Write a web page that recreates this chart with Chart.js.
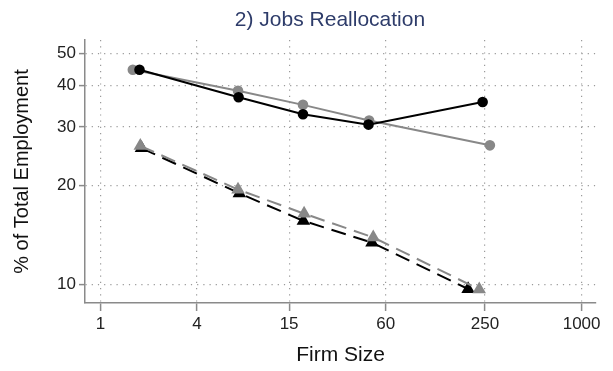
<!DOCTYPE html>
<html><head><meta charset="utf-8">
<script src="https://cdn.jsdelivr.net/npm/chart.js@4"></script>
<style>html,body{margin:0;padding:0;background:#fff}#wrap{width:613px;height:371px}</style>
</head><body><div id="wrap"><canvas id="c" width="613" height="371"></canvas></div>
<script>
const titleText = '2) Jobs Reallocation';
const xLabel = 'Firm Size';
const yLabel = '% of Total Employment';
const xTicks = [1, 4, 15, 60, 250, 1000];
const yTicks = [10, 20, 30, 40, 50];

const blackSolidX = [1.75, 7.26, 18.3, 46.9, 241.5];
const blackSolidY = [44.7, 36.9, 32.8, 30.5, 35.7];
const graySolidX = [1.59, 7.2, 18.3, 47.3, 268];
const graySolidY = [44.7, 38.6, 35.0, 31.4, 26.4];
const blackDashX = [1.80, 7.34, 18.4, 49.3, 196];
const blackDashY = [25.9, 18.9, 15.6, 13.4, 9.7];
const grayDashX = [1.77, 7.2, 18.6, 50.2, 230];
const grayDashY = [26.3, 19.4, 16.4, 13.9, 9.68];

const pts = (xs, ys) => xs.map((x, i) => ({x: x, y: ys[i]}));
const FONT = "'Liberation Sans', Arial, Helvetica, sans-serif";

const titlePlugin = {
  id: 'fixedTitle',
  afterDraw(chart) {
    const ctx = chart.ctx;
    ctx.save();
    ctx.font = '21px ' + FONT;
    ctx.fillStyle = '#2e3c6a';
    ctx.textAlign = 'center';
    ctx.textBaseline = 'middle';
    ctx.fillText(titleText, 330, 20);
    ctx.restore();
  }
};

new Chart(document.getElementById('c'), {
  type: 'line',
  data: {
    datasets: [
      {data: pts(blackSolidX, blackSolidY), borderColor: '#000', backgroundColor: '#000',
       borderWidth: 2, pointStyle: 'circle', pointRadius: 4.3, order: 1},
      {data: pts(graySolidX, graySolidY), borderColor: '#888', backgroundColor: '#888',
       borderWidth: 2, pointStyle: 'circle', pointRadius: 4.3, order: 2},
      {data: pts(grayDashX, grayDashY), borderColor: '#888', backgroundColor: '#888',
       borderWidth: 2, borderDash: [15, 8], pointStyle: 'triangle', pointRadius: 5.8, order: 3},
      {data: pts(blackDashX, blackDashY), borderColor: '#000', backgroundColor: '#000',
       borderWidth: 2, borderDash: [15, 8], pointStyle: 'triangle', pointRadius: 5.8, order: 4}
    ]
  },
  plugins: [titlePlugin],
  options: {
    responsive: false,
    animation: false,
    devicePixelRatio: 1,
    layout: {padding: {left: 0, right: 17, top: 40, bottom: 0}},
    plugins: {
      legend: {display: false},
      tooltip: {enabled: false},
      title: {display: false}
    },
    elements: {line: {tension: 0}},
    scales: {
      x: {
        type: 'logarithmic', min: 0.8, max: 1230,
        afterBuildTicks: s => { s.ticks = xTicks.map(v => ({value: v})); },
        afterFit: s => { s.height = 68; },
        ticks: {callback: (v) => String(v), color: '#222', font: {family: FONT, size: 17},
          padding: 3, maxRotation: 0, autoSkip: false},
        grid: {color: '#9a9a9a', lineWidth: 1.2, tickLength: 8,
          tickBorderDash: [], tickColor: '#8a8a8a', tickWidth: 1.5},
        border: {display: true, color: '#8a8a8a', width: 1.5, dash: [1.2, 5]},
        title: {display: true, text: xLabel, color: '#111', font: {family: FONT, size: 21},
          padding: {top: 0, bottom: 3}}
      },
      y: {
        type: 'logarithmic', min: 8.8, max: 55,
        afterBuildTicks: s => { s.ticks = yTicks.map(v => ({value: v})); },
        afterFit: s => { s.width = 85; },
        ticks: {callback: (v) => String(v), color: '#222', font: {family: FONT, size: 17},
          padding: 3, autoSkip: false},
        grid: {color: '#9a9a9a', lineWidth: 1.2, tickLength: 6,
          tickBorderDash: [], tickColor: '#8a8a8a', tickWidth: 1.5},
        border: {display: true, color: '#8a8a8a', width: 1.5, dash: [1.2, 5]},
        title: {display: true, text: yLabel, color: '#111', font: {family: FONT, size: 20},
          padding: {top: 10, bottom: 0}}
      }
    }
  }
});
</script></body></html>
